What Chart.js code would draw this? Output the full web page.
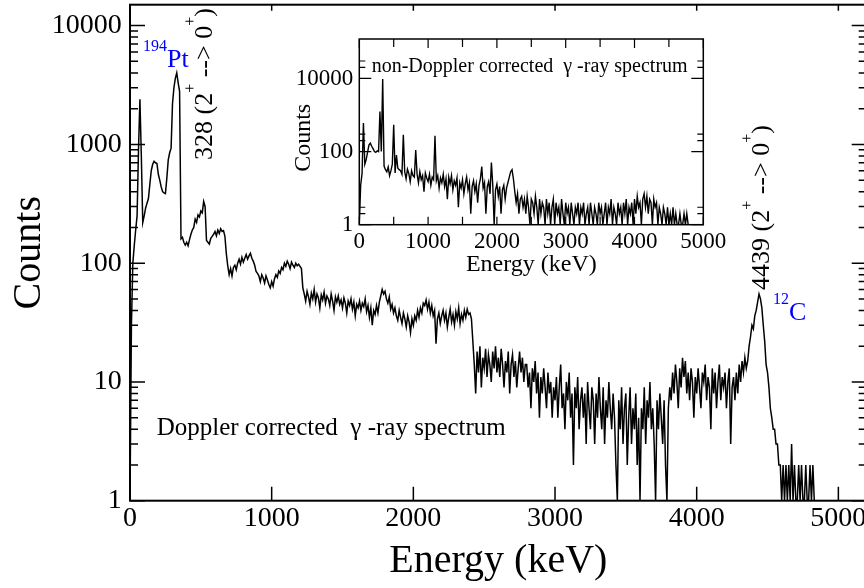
<!DOCTYPE html>
<html><head><meta charset="utf-8">
<script src="https://cdn.jsdelivr.net/npm/chart.js@4.4.1/dist/chart.umd.min.js"></script>
<style>
html,body{margin:0;padding:0;background:#fff;overflow:hidden;width:864px;height:588px;}
#wrap{position:relative;width:864px;height:588px;overflow:hidden;background:#fff;}
#main{position:absolute;left:0;top:0;width:870px;height:588px;}
#inset{position:absolute;left:280px;top:30px;width:460px;height:255px;}
</style></head><body>
<div id="wrap"><canvas id="main" width="870" height="588"></canvas><canvas id="inset" width="460" height="255"></canvas></div>
<script>
// ---------- data ----------
const mainBinKeV = 10;   // channel width of Doppler corrected spectrum
const mainCounts = [
1,30,100,140,190,250,900,2400,800,220,250,290,320,350,460,600,680,720,700,690,
560,500,440,400,390,385,520,740,850,930,2200,3000,3600,4000,3300,2800,160,165,150,142,
150,140,158,175,190,200,235,220,255,245,275,265,330,300,155,150,145,162,168,175,
185,170,190,178,195,185,188,168,120,95,80,90,78,92,96,88,100,108,98,112,
102,110,118,108,115,121,110,104,96,85,82,78,70,80,75,68,78,72,66,62,
70,64,74,80,76,86,82,92,88,100,94,104,98,90,102,96,92,100,95,98,
94,90,62,55,48,58,52,45,56,50,60,47,55,51,42,54,49,57,46,53,
50,44,55,48,40,52,47,53,45,49,42,51,46,38,48,44,50,41,47,36,
45,42,48,40,46,43,50,39,44,35,42,30,40,37,44,38,47,53,60,55,
58,50,46,52,41,45,38,42,36,33,40,35,31,38,34,29,36,32,26,34,
30,36,33,40,35,42,38,46,44,49,41,47,38,44,36,40,21,34,38,31,
36,40,33,38,29,35,41,32,37,30,39,34,42,31,37,33,40,35,41,37,
38,34,22,14,8,18,12,20,9,16,13,19,11,17,14,10,18,13,20,12,
16,11,19,14,9,15,12,18,8,14,17,11,15,9,13,18,12,16,10,14,
14,9,12,6,13,10,15,8,12,5,11,8,13,9,6,12,8,10,5,9,
7,11,5,9,14,6,8,4,10,7,12,5,8,2,9,6,11,4,7,9,
5,8,3,10,6,4,9,7,3,8,5,11,6,4,9,3,7,5,10,6,
4,8,5,2,1,7,4,9,3,6,8,2,5,9,3,6,4,8,2,5,
1,6,4,9,3,7,5,10,4,6,3,1,7,4,8,5,3,7,2,1,
6,9,7,12,8,14,10,6,13,9,16,11,15,8,12,7,13,10,5,11,
8,13,9,6,12,10,14,7,11,9,4,13,8,12,6,10,14,7,11,9,
12,6,10,13,3,9,11,7,12,8,14,10,15,12,16,13,15,20,24,30,
28,36,40,47,55,50,42,30,22,14,12,9,6,5,4,4,3,3,2,2,
1,2,1,2,1,2,1,3,1,2,1,1,2,1,2,1,1,2,1,1,
2,1,2,1
];
const insetBinKeV = 20;  // channel width of non-Doppler corrected spectrum
const insetCounts = [
1,12,25,600,45,60,95,150,170,140,120,100,95,105,100,1250,100,9600,40,32,
28,38,22,30,45,540,26,80,35,32,30,24,290,28,18,33,25,15,30,22,
20,110,24,14,28,17,22,8,26,19,15,24,12,20,17,270,16,22,10,19,
14,24,11,18,5,20,13,22,9,16,12,19,3,14,10,17,7,13,20,9,
14,2,11,16,8,13,4,12,18,39,10,14,2,11,15,7,50,12,1,9,
13,6,11,2,9,12,5,10,14,20,28,32,18,8,4,7,2,5,6,3,
5,2,6,3,1,5,4,2,6,3,1,5,2,4,3,1,5,2,4,1,
3,5,1,4,2,3,1,5,2,1,4,2,3,1,4,2,1,3,2,4,
1,3,2,4,1,2,3,1,4,2,1,3,2,1,4,2,3,1,2,4,
1,3,2,5,1,3,2,1,4,2,3,1,4,2,5,1,3,2,4,1,
5,2,6,3,4,1,5,7,3,6,2,5,4,1,5,3,4,1,3,2,
1,3,2,1,3,1,2,1,3,1,2,1,1,2,1,1,2,1,2,1
];
const mainXTicks = [0,1000,2000,3000,4000,5000];
const mainYTicks = [1,10,100,1000,10000];
const mainYMinor = [2,3,4,5,6,7,8,9,20,30,40,50,60,70,80,90,200,300,400,500,600,700,800,900,2000,3000,4000,5000,6000,7000,8000,9000];
const insetXTicks = [0,1000,2000,3000,4000,5000];
const insetXMinor = [500,1500,2500,3500,4500];
const insetYTicks = [1,100,10000];
const insetYMinor = [2,3,200,300,20000,30000];

const FONT = "'Liberation Serif','Times New Roman',serif";
const BLUE = '#0000ff';

// ---------- plugins ----------
const framePlugin = {
  id: 'frame',
  afterDatasetsDraw(chart, args, o) {
    const {ctx, chartArea: a} = chart;
    const x = chart.scales.x, y = chart.scales.y;
    ctx.save();
    ctx.strokeStyle = '#000';
    ctx.lineWidth = o.tickWidth;
    ctx.beginPath();
    const xt = (list, lb, lt) => list.forEach(v => {
      const p = x.getPixelForValue(v);
      ctx.moveTo(p, a.bottom); ctx.lineTo(p, a.bottom - lb);
      ctx.moveTo(p, a.top); ctx.lineTo(p, a.top + lt);
    });
    const yt = (list, len) => list.forEach(v => {
      const p = y.getPixelForValue(v);
      ctx.moveTo(a.left, p); ctx.lineTo(a.left + len, p);
      ctx.moveTo(a.right, p); ctx.lineTo(a.right - len, p);
    });
    xt(o.xMajor, o.xLenBottom, o.xLenTop);
    xt(o.xMinor || [], o.xMinorLen, o.xMinorLen);
    yt(o.yMajor, o.yLen);
    yt(o.yMinor || [], o.yMinorLen);
    ctx.stroke();
    ctx.lineWidth = o.frameWidth;
    ctx.strokeRect(a.left, a.top, a.right - a.left, a.bottom - a.top);
    ctx.restore();
  }
};
const notesPlugin = {
  id: 'notes',
  afterDraw(chart, args, o) {
    const ctx = chart.ctx;
    (o.items || []).forEach(it => {
      ctx.save();
      ctx.translate(it.x, it.y);
      if (it.rotate) ctx.rotate(it.rotate);
      ctx.fillStyle = it.color;
      ctx.textBaseline = 'alphabetic';
      ctx.textAlign = 'left';
      let cx = 0;
      it.parts.forEach(p => {
        ctx.font = p.size + 'px ' + FONT;
        ctx.fillText(p.text, cx, p.dy || 0);
        cx += ctx.measureText(p.text).width;
      });
      ctx.restore();
    });
  }
};

function series(counts, step) { return counts.map((c, i) => ({x: i * step, y: c})); }

// ---------- main chart ----------
new Chart(document.getElementById('main'), {
  type: 'line',
  data: { datasets: [{ data: series(mainCounts, mainBinKeV), borderColor: '#000', borderWidth: 1.5,
    pointRadius: 0, fill: false, tension: 0 }] },
  options: {
    responsive: false, animation: false, devicePixelRatio: 1,
    layout: { padding: { top: 4.7, right: 3.3, left: 0, bottom: 0 } },
    plugins: {
      legend: { display: false }, tooltip: { enabled: false },
      frame: { xMajor: mainXTicks, xLenBottom: 14, xLenTop: 6, yMajor: mainYTicks, yLen: 15,
               yMinor: mainYMinor, yMinorLen: 8, tickWidth: 1.5, frameWidth: 2 },
      notes: { items: [
        { x: 143, y: 67.2, color: BLUE, parts: [{text: '194', size: 16, dy: -16.4}, {text: 'Pt', size: 26}] },
        { x: 212, y: 160, rotate: -Math.PI / 2, color: '#000', parts: [
          {text: '328 (2', size: 26}, {text: '+', size: 16, dy: -17}, {text: ' --> 0', size: 26},
          {text: '+', size: 16, dy: -17}, {text: ')', size: 26}] },
        { x: 769, y: 290, rotate: -Math.PI / 2, color: '#000', parts: [
          {text: '4439 (2', size: 26}, {text: '+', size: 16, dy: -17}, {text: ' --> 0', size: 26},
          {text: '+', size: 16, dy: -17}, {text: ')', size: 26}] },
        { x: 773, y: 320, color: BLUE, parts: [{text: '12', size: 16, dy: -16}, {text: 'C', size: 26}] },
        { x: 156.7, y: 435, color: '#000', parts: [{text: 'Doppler corrected  \u03b3 -ray spectrum', size: 25}] }
      ] }
    },
    scales: {
      x: { type: 'linear', min: 0, max: 5200,
        grid: { display: false, drawTicks: false, tickLength: 0 }, border: { display: false },
        afterBuildTicks: s => { s.ticks = mainXTicks.map(v => ({value: v})); },
        afterFit: s => { s.height = 87.3; s.paddingLeft = 0; s.paddingRight = 0; },
        ticks: { font: { family: FONT, size: 28 }, color: '#000', padding: 1, maxRotation: 0, minRotation: 0,
                 autoSkip: false, callback: v => String(v) },
        title: { display: true, text: 'Energy (keV)', color: '#000', font: { family: FONT, size: 40 },
                 padding: { top: 0, bottom: 3 } } },
      y: { type: 'logarithmic', min: 1, max: 15000,
        grid: { display: false, drawTicks: false, tickLength: 0 }, border: { display: false },
        afterBuildTicks: s => { s.ticks = mainYTicks.map(v => ({value: v})); },
        afterFit: s => { s.width = 130; s.paddingTop = 0; s.paddingBottom = 0; },
        ticks: { font: { family: FONT, size: 28 }, color: '#000', padding: 8.3, autoSkip: false,
                 callback: v => String(v) },
        title: { display: true, text: 'Counts', color: '#000', font: { family: FONT, size: 40 },
                 padding: { top: 5, bottom: 0 } } }
    }
  },
  plugins: [framePlugin, notesPlugin]
});

// ---------- inset chart ----------
new Chart(document.getElementById('inset'), {
  type: 'line',
  data: { datasets: [{ data: series(insetCounts, insetBinKeV), borderColor: '#000', borderWidth: 1.4,
    pointRadius: 0, fill: false, tension: 0 }] },
  options: {
    responsive: false, animation: false, devicePixelRatio: 1,
    layout: { padding: { top: 9, right: 36.7, left: 0, bottom: 0 } },
    plugins: {
      legend: { display: false }, tooltip: { enabled: false },
      frame: { xMajor: insetXTicks, xMinor: insetXMinor, xLenBottom: 8, xLenTop: 9, xMinorLen: 8,
               yMajor: insetYTicks, yLen: 12, yMinor: insetYMinor, yMinorLen: 6, tickWidth: 1.2, frameWidth: 1.5 },
      notes: { items: [
        { x: 91.7, y: 41.7, color: '#000', parts: [{text: 'non-Doppler corrected  \u03b3 -ray spectrum', size: 20}] }
      ] }
    },
    scales: {
      x: { type: 'linear', min: 0, max: 5000,
        grid: { display: false, drawTicks: false, tickLength: 0 }, border: { display: false },
        afterBuildTicks: s => { s.ticks = insetXTicks.map(v => ({value: v})); },
        afterFit: s => { s.height = 60.3; s.paddingLeft = 0; s.paddingRight = 0; },
        ticks: { font: { family: FONT, size: 23 }, color: '#000', padding: 3, maxRotation: 0, minRotation: 0,
                 autoSkip: false, callback: v => String(v) },
        title: { display: true, text: 'Energy (keV)', color: '#000', font: { family: FONT, size: 24 },
                 padding: { top: 0, bottom: 6 } } },
      y: { type: 'logarithmic', min: 1, max: 120000,
        grid: { display: false, drawTicks: false, tickLength: 0 }, border: { display: false },
        afterBuildTicks: s => { s.ticks = insetYTicks.map(v => ({value: v})); },
        afterFit: s => { s.width = 79.3; s.paddingTop = 0; s.paddingBottom = 0; },
        ticks: { font: { family: FONT, size: 23 }, color: '#000', padding: 6, autoSkip: false,
                 callback: v => String(v) },
        title: { display: true, text: 'Counts  ', color: '#000', font: { family: FONT, size: 24 },
                 padding: { top: 9.6, bottom: 0 } } }
    }
  },
  plugins: [framePlugin, notesPlugin]
});
</script>
</body></html>
